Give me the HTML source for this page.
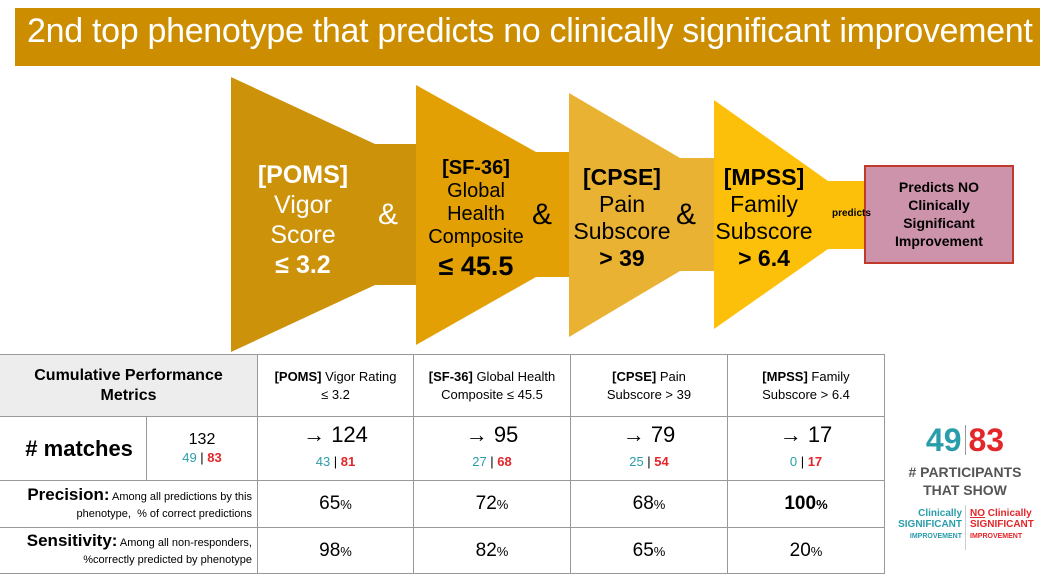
<!DOCTYPE html>
<html><head><meta charset="utf-8">
<style>
body{margin:0;width:1049px;height:574px;position:relative;background:#fff;overflow:hidden;font-family:"Liberation Sans Narrow","Liberation Sans",sans-serif;}
.a{position:absolute;}
.c{text-align:center;}
table{position:absolute;left:0;top:354px;border-collapse:collapse;}
td{border:1.5px solid #999;text-align:center;padding:0;color:#000;}
.t{color:#2a9daa}.r{color:#e3262a;font-weight:bold}
</style></head><body>
<div class="a" style="left:15px;top:8px;width:1025px;height:58px;background:#cc8e00;"></div>
<div class="a" style="left:27px;top:12px;color:#fff;font-size:34px;font-family:'Liberation Sans',sans-serif;letter-spacing:-0.3px;">2nd top phenotype that predicts no clinically significant improvement</div>

<svg class="a" style="left:0;top:0" width="1049" height="574">
<polygon points="231,77 375,144 416,144 416,285 375,285 231,352" fill="#cc920a"/>
<polygon points="416,85 536,152 569,152 569,277 536,277 416,345" fill="#e2a004"/>
<polygon points="569,93 680,158 714,158 714,271 680,271 569,337" fill="#eab232"/>
<polygon points="714,100 828,181 866,181 866,249 828,249 714,329" fill="#fdc00a"/>
<rect x="865" y="166" width="148" height="97" fill="#cd93aa" stroke="#c0392b" stroke-width="2"/>
</svg>

<div class="a c" style="left:243px;top:160px;width:120px;color:#fff;font-size:25px;line-height:30px;"><b>[POMS]</b><br>Vigor<br>Score<br><b>≤ 3.2</b></div>
<div class="a c" style="left:378px;top:198px;color:#fff;font-size:30px;">&amp;</div>
<div class="a c" style="left:416px;top:157px;width:120px;font-size:20px;line-height:23px;"><b>[SF-36]</b><br>Global<br>Health<br>Composite<br><b style="font-size:27px;line-height:34px">≤ 45.5</b></div>
<div class="a c" style="left:532px;top:198px;font-size:30px;">&amp;</div>
<div class="a c" style="left:567px;top:164px;width:110px;font-size:23px;line-height:27px;"><b>[CPSE]</b><br>Pain<br>Subscore<br><b>&gt; 39</b></div>
<div class="a c" style="left:676px;top:198px;font-size:30px;">&amp;</div>
<div class="a c" style="left:709px;top:164px;width:110px;font-size:23px;line-height:27px;"><b>[MPSS]</b><br>Family<br>Subscore<br><b>&gt; 6.4</b></div>
<div class="a" style="left:832px;top:208px;font-size:10px;font-weight:bold;">predicts</div>
<div class="a c" style="left:865px;top:178px;width:148px;font-size:14px;line-height:18px;font-weight:bold;">Predicts NO<br>Clinically<br>Significant<br>Improvement</div>

<table>
<tr style="height:62px">
<td colspan="2" style="width:257px;background:#ededed;font-weight:bold;font-size:16px;line-height:20px;border-left:none">Cumulative Performance<br>Metrics</td>
<td style="width:155px;font-size:13px;line-height:18px"><b>[POMS]</b> Vigor Rating<br>≤ 3.2</td>
<td style="width:156px;font-size:13px;line-height:18px"><b>[SF-36]</b> Global Health<br>Composite ≤ 45.5</td>
<td style="width:156px;font-size:13px;line-height:18px"><b>[CPSE]</b> Pain<br>Subscore &gt; 39</td>
<td style="width:156px;font-size:13px;line-height:18px"><b>[MPSS]</b> Family<br>Subscore &gt; 6.4</td>
</tr>
<tr style="height:64px">
<td style="width:146px;font-size:22px;font-weight:bold;border-left:none">&nbsp;&nbsp;# matches</td>
<td style="font-size:16px;line-height:18px">132<br><span style="font-size:13px"><span class="t">49</span> | <span class="r">83</span></span></td>
<td style="font-size:22px;line-height:24px">→ 124<br><span style="font-size:13px"><span class="t">43</span> | <span class="r">81</span></span></td>
<td style="font-size:22px;line-height:24px">→ 95<br><span style="font-size:13px"><span class="t">27</span> | <span class="r">68</span></span></td>
<td style="font-size:22px;line-height:24px">→ 79<br><span style="font-size:13px"><span class="t">25</span> | <span class="r">54</span></span></td>
<td style="font-size:22px;line-height:24px">→ 17<br><span style="font-size:13px"><span class="t">0</span> | <span class="r">17</span></span></td>
</tr>
<tr style="height:47px">
<td colspan="2" style="text-align:right;padding-right:5px;font-size:11px;line-height:17px;border-left:none"><b style="font-size:17px">Precision:</b> Among all predictions by this<br>phenotype, &nbsp;% of correct predictions</td>
<td style="font-size:19px">65<span style="font-size:13px">%</span></td>
<td style="font-size:19px">72<span style="font-size:13px">%</span></td>
<td style="font-size:19px">68<span style="font-size:13px">%</span></td>
<td style="font-size:19px;font-weight:bold">100<span style="font-size:13px">%</span></td>
</tr>
<tr style="height:46px">
<td colspan="2" style="text-align:right;padding-right:5px;font-size:11px;line-height:17px;border-left:none"><b style="font-size:17px">Sensitivity:</b> Among all non-responders,<br>%correctly predicted by phenotype</td>
<td style="font-size:19px">98<span style="font-size:13px">%</span></td>
<td style="font-size:19px">82<span style="font-size:13px">%</span></td>
<td style="font-size:19px">65<span style="font-size:13px">%</span></td>
<td style="font-size:19px">20<span style="font-size:13px">%</span></td>
</tr>
</table>

<div class="a c" style="left:900px;top:422px;width:130px;font-size:32px;font-weight:bold;"><span class="t">49</span><span style="display:inline-block;width:1px;height:30px;background:#999;margin:0 3px;vertical-align:-4px"></span><span style="color:#e3262a">83</span></div>
<div class="a c" style="left:900px;top:463px;width:130px;font-size:14px;line-height:18px;font-weight:bold;color:#555;"># PARTICIPANTS<br>THAT SHOW</div>
<div class="a" style="left:965px;top:505px;width:1px;height:45px;background:#ccc;"></div>
<div class="a" style="left:890px;top:508px;width:72px;text-align:right;color:#2a9daa;font-size:10px;line-height:11px;font-weight:bold;">Clinically<br>SIGNIFICANT<br><span style="font-size:7px">IMPROVEMENT</span></div>
<div class="a" style="left:970px;top:508px;width:75px;color:#e3262a;font-size:10px;line-height:11px;font-weight:bold;"><u>NO</u> Clinically<br>SIGNIFICANT<br><span style="font-size:7px">IMPROVEMENT</span></div>
</body></html>
